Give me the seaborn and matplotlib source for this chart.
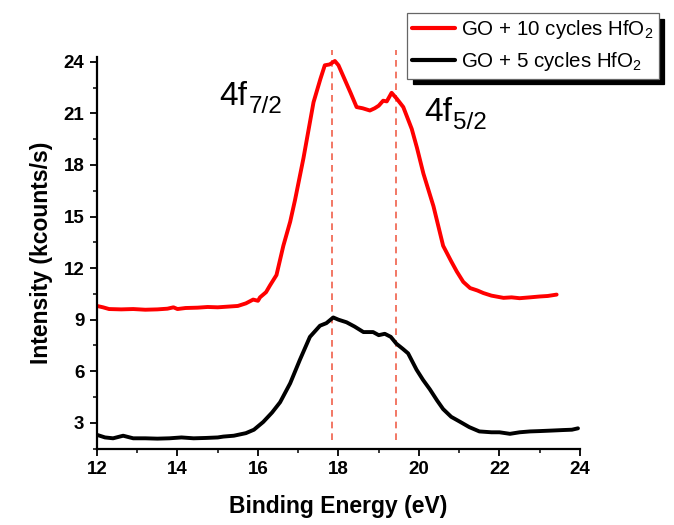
import numpy as np
import pandas as pd
import matplotlib
matplotlib.use("Agg")
import matplotlib.pyplot as plt
import seaborn as sns

# ---- data ----
energy_10 = [12.0, 12.15, 12.3, 12.6, 12.9, 13.2, 13.5, 13.75, 13.9, 14.0, 14.2, 14.5,
             14.75, 15.0, 15.25, 15.5, 15.7, 15.88, 16.0, 16.05, 16.2, 16.3, 16.46,
             16.63, 16.8, 16.92, 17.13, 17.38, 17.55, 17.66, 17.78, 17.91, 18.0,
             18.15, 18.3, 18.45, 18.6, 18.78, 18.9, 19.0, 19.11, 19.2, 19.32, 19.45,
             19.61, 19.82, 19.95, 20.11, 20.36, 20.6, 20.8, 20.94, 21.1, 21.27, 21.45,
             21.6, 21.8, 22.1, 22.3, 22.5, 22.76, 23.0, 23.2, 23.42]
counts_10 = [9.8, 9.72, 9.62, 9.6, 9.62, 9.58, 9.6, 9.64, 9.72, 9.62, 9.68, 9.7,
             9.74, 9.72, 9.76, 9.8, 9.95, 10.17, 10.1, 10.3, 10.6, 11.0, 11.6,
             13.3, 14.7, 15.96, 18.4, 21.65, 23.0, 23.8, 23.85, 24.05, 23.8,
             23.0, 22.2, 21.37, 21.3, 21.17, 21.3, 21.45, 21.74, 21.7, 22.2, 21.85,
             21.37, 20.1, 19.0, 17.5, 15.6, 13.3, 12.4, 11.8, 11.2, 10.84, 10.7,
             10.55, 10.4, 10.27, 10.3, 10.25, 10.3, 10.35, 10.38, 10.46]

energy_5 = [12.0, 12.2, 12.4, 12.65, 12.9, 13.2, 13.5, 13.8, 14.1, 14.4, 14.7, 15.0,
            15.14, 15.4, 15.7, 15.9, 16.13, 16.35, 16.55, 16.8, 17.04, 17.29, 17.54,
            17.7, 17.87, 18.0, 18.2, 18.4, 18.62, 18.86, 19.0, 19.15, 19.3, 19.44,
            19.6, 19.73, 19.94, 20.1, 20.27, 20.45, 20.6, 20.8, 21.02, 21.25, 21.5,
            21.8, 22.0, 22.26, 22.5, 22.76, 23.0, 23.3, 23.58, 23.8, 23.95]
counts_5 = [2.3, 2.15, 2.1, 2.25, 2.1, 2.1, 2.08, 2.1, 2.15, 2.1, 2.12, 2.15,
            2.2, 2.25, 2.4, 2.6, 3.05, 3.6, 4.2, 5.3, 6.66, 8.0, 8.65,
            8.8, 9.13, 9.0, 8.85, 8.6, 8.28, 8.28, 8.1, 8.18, 8.0, 7.6,
            7.3, 7.04, 6.09, 5.5, 4.95, 4.3, 3.8, 3.35, 3.06, 2.75, 2.5,
            2.45, 2.45, 2.36, 2.45, 2.5, 2.52, 2.55, 2.58, 2.6, 2.68]

peak_positions = [17.85, 19.42]
peak_main = ["4f", "4f"]
peak_sub = ["7/2", "5/2"]
label_x = [15.05, 20.12]
label_y = [21.5, 20.55]

series_names = ["GO + 10 cycles HfO$_2$", "GO + 5 cycles HfO$_2$"]
series_colors = ["#ff0000", "#000000"]

x_ticks = [12, 14, 16, 18, 20, 22, 24]
y_ticks = [3, 6, 9, 12, 15, 18, 21, 24]

# ---- build table ----
df = pd.concat([
    pd.DataFrame({"Binding Energy": energy_10, "Intensity": counts_10, "Series": series_names[0]}),
    pd.DataFrame({"Binding Energy": energy_5, "Intensity": counts_5, "Series": series_names[1]}),
], ignore_index=True)

sns.set_theme(style="ticks")
plt.rcParams["font.family"] = ["Liberation Sans", "DejaVu Sans"]
plt.rcParams["mathtext.fontset"] = "custom"
plt.rcParams["mathtext.rm"] = "Liberation Sans"
plt.rcParams["mathtext.it"] = "Liberation Sans"
plt.rcParams["text.color"] = "black"
plt.rcParams["axes.labelcolor"] = "black"
plt.rcParams["xtick.color"] = "black"
plt.rcParams["ytick.color"] = "black"
plt.rcParams["axes.edgecolor"] = "black"

fig = plt.figure(figsize=(6.74, 5.25), dpi=100)
ax = fig.add_axes([0.1439, 0.1455, 0.7166, 0.7465])

sns.lineplot(data=df, x="Binding Energy", y="Intensity", hue="Series",
             palette=dict(zip(series_names, series_colors)), linewidth=2.8,
             ax=ax, sort=False, estimator=None)

ax.set_xlim(12, 24)
ax.set_ylim(2.0, 24.3)

ax.vlines(peak_positions, 2.0, 24.7, colors="#f0604a", linestyles=(0, (4, 3)),
          linewidth=1.2, clip_on=False, zorder=1)

ax.set_xticks(x_ticks)
ax.set_yticks(y_ticks)
ax.set_xticks(np.arange(12, 24.01, 1), minor=True)
ax.set_yticks(np.arange(1.5, 24.01, 1.5), minor=True)
ax.tick_params(axis="both", which="major", direction="out", length=5, width=1.3,
               labelsize=13.5, pad=4, colors="black")
ax.tick_params(axis="both", which="minor", direction="out", length=3, width=1.1, color="black")
for lab in ax.get_xticklabels() + ax.get_yticklabels():
    lab.set_fontweight("bold")

for side in ["top", "right"]:
    ax.spines[side].set_visible(False)
for side in ["left", "bottom"]:
    ax.spines[side].set_linewidth(1.6)
    ax.spines[side].set_color("black")

ax.set_xlabel("Binding Energy (eV)", fontsize=16.5, fontweight="bold", labelpad=12)
ax.set_ylabel("Intensity (kcounts/s)", fontsize=16.5, fontweight="bold", labelpad=8)

# peak labels: main text + larger-than-default subscript
fig.canvas.draw()
renderer = fig.canvas.get_renderer()
for lx, ly, main, sub in zip(label_x, label_y, peak_main, peak_sub):
    t = ax.text(lx, ly, main, fontsize=24, color="black", ha="left", va="baseline")
    bb = t.get_window_extent(renderer=renderer)
    x_end_data = ax.transData.inverted().transform((bb.x1, bb.y0))[0]
    ax.annotate(sub, xy=(x_end_data, ly), xycoords="data", xytext=(0.5, -6),
                textcoords="offset points", fontsize=17.5, color="black",
                ha="left", va="baseline")

handles, labels = ax.get_legend_handles_labels()
if ax.legend_:
    ax.legend_.remove()
leg = fig.legend(handles, labels, loc="upper left",
                 bbox_to_anchor=(407 / 674, 1 - 13 / 525), bbox_transform=fig.transFigure,
                 fontsize=14.8, frameon=True, fancybox=False, edgecolor="#666666",
                 framealpha=1, borderpad=0.25, borderaxespad=0, handlelength=2.1,
                 handletextpad=0.3, labelspacing=0.45,
                 shadow={"ox": 4, "oy": -4, "color": "black", "alpha": 1.0})
leg.get_frame().set_linewidth(0.9)
for h in leg.legend_handles:
    h.set_linewidth(3)

fig.savefig("out.png", dpi=100)
